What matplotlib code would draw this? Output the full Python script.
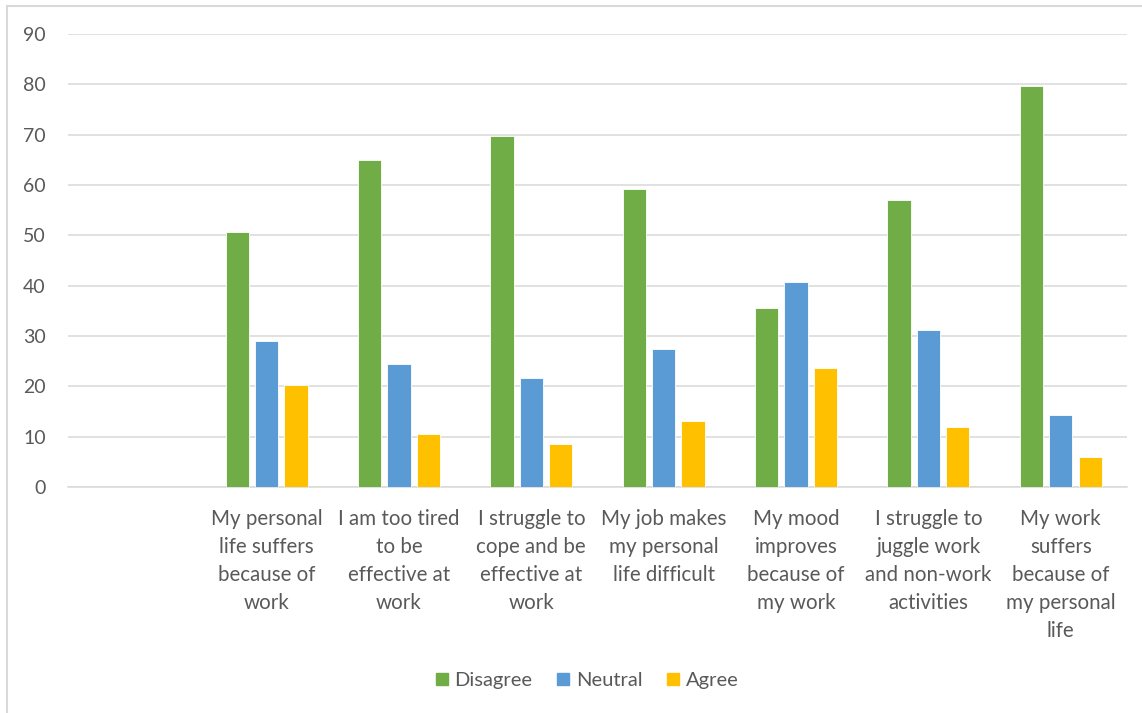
import numpy as np
import matplotlib.pyplot as plt
from matplotlib.lines import Line2D

# survey answers, percent per statement (first slot is blank in the source chart)
categories = ["",
              "My personal\nlife suffers\nbecause of\nwork",
              "I am too tired\nto be\neffective at\nwork",
              "I struggle to\ncope and be\neffective at\nwork",
              "My job makes\nmy personal\nlife difficult",
              "My mood\nimproves\nbecause of\nmy work",
              "I struggle to\njuggle work\nand non-work\nactivities",
              "My work\nsuffers\nbecause of\nmy personal\nlife"]
disagree = [0, 50.7, 65.0, 69.7, 59.2, 35.6, 57.0, 79.6]
neutral = [0, 29.0, 24.4, 21.7, 27.5, 40.7, 31.2, 14.4]
agree = [0, 20.3, 10.5, 8.6, 13.2, 23.7, 12.0, 5.9]

series = ["Disagree", "Neutral", "Agree"]
colors = ["#70AD47", "#5B9BD5", "#FFC000"]
grey = "#595959"

plt.rcParams['font.family'] = ['Lato', 'DejaVu Sans']

fig = plt.figure(figsize=(11.42, 7.13), dpi=100)
ax = fig.add_axes([68/1142, 1-487/713, (1127-68)/1142, (487-34)/713])

x = np.arange(len(categories))
w = 0.175
step = 0.222
for i, vals in enumerate([disagree, neutral, agree]):
    xs = x[1:] + (i - 1) * step
    ax.bar(xs, vals[1:], width=w, color=colors[i], edgecolor="white",
           linewidth=0.6, zorder=3)

ax.set_xlim(-0.5, len(categories) - 0.5)
ax.set_ylim(0, 90)
ax.set_yticks(np.arange(0, 91, 10))
ax.yaxis.grid(True, color="#d9d9d9", linewidth=1.1, zorder=0)
ax.set_axisbelow(True)
for s in ["top", "right", "left"]:
    ax.spines[s].set_visible(False)
ax.spines["bottom"].set_color("#d9d9d9")
ax.spines["bottom"].set_linewidth(1.1)

ax.set_xticks(x)
ax.set_xticklabels(categories, linespacing=1.5, fontsize=14.8)
ax.tick_params(axis="both", length=0, labelcolor=grey)
ax.tick_params(axis="y", pad=16, labelsize=14)
ax.tick_params(axis="x", pad=16)
for lab in ax.get_xticklabels():
    lab.set_verticalalignment("top")
    lab.set_horizontalalignment("center")

handles = [Line2D([], [], marker="s", linestyle="none", markersize=9,
                  markerfacecolor=c, markeredgecolor=c) for c in colors]
fig.legend(handles, series, loc="center", bbox_to_anchor=(585/1142, 1-680/713),
           ncol=3, frameon=False, fontsize=14.5, labelcolor=grey,
           handletextpad=0.15, columnspacing=1.0, handlelength=1.0)

# chart area border (left and top edges visible)
fig.add_artist(Line2D([7/1142, 7/1142], [0, 1-6/713], transform=fig.transFigure,
                      color="#d9d9d9", linewidth=1.5))
fig.add_artist(Line2D([7/1142, 1], [1-6/713, 1-6/713], transform=fig.transFigure,
                      color="#d9d9d9", linewidth=1.5))

fig.savefig("out.png", dpi=100)
